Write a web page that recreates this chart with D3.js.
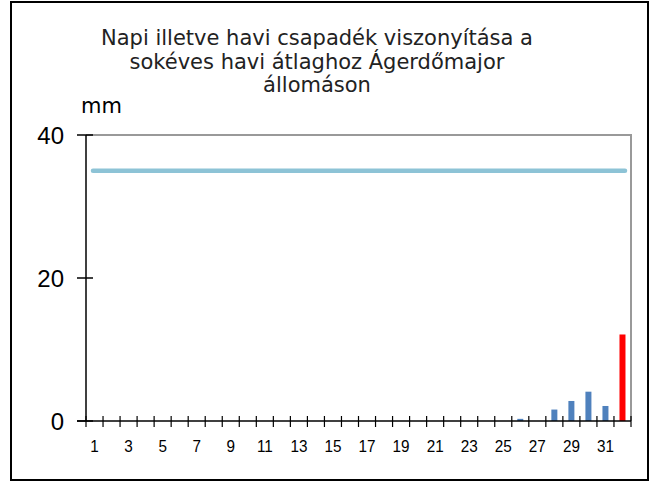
<!DOCTYPE html>
<html>
<head>
<meta charset="utf-8">
<script src="https://cdn.jsdelivr.net/npm/d3@7"></script>
<style>
  body { margin: 0; background: #fff; }
  svg { display: block; }
</style>
</head>
<body>
<div id="chart"></div>
<script>
// day slots 1..31 plus the monthly total in slot 32
var days = d3.range(1, 33);
var daily = [0,0,0,0,0,0,0,0,0,0,0,0,0,0,0,0,0,0,0,0,0,0,0,0,0,0.3,0,1.6,2.8,4.1,2.1];
var monthTotal = 12.1;
var longTermAvg = 35;
var yTicks = [0, 20, 40];
var titleLines = ['Napi illetve havi csapadék viszonyítása a', 'sokéves havi átlaghoz Ágerdőmajor', 'állomáson'];

var values = daily.concat([monthTotal]);

var W = 651, H = 484;
var svg = d3.select('#chart').append('svg')
  .attr('width', W)
  .attr('height', H);

// outer frame
svg.append('rect')
  .attr('x', 11).attr('y', 2)
  .attr('width', 637).attr('height', 478)
  .attr('fill', '#fff')
  .attr('stroke', '#000')
  .attr('stroke-width', 2);

var pLeft = 86, pRight = 631, pTop = 135, pBottom = 421;

var x = d3.scaleBand().domain(days).range([pLeft, pRight]);
var y = d3.scaleLinear().domain([0, 40]).range([pBottom, pTop]);

// plot border (top + right, grey)
svg.append('path')
  .attr('d', 'M' + pLeft + ',' + pTop + 'H' + pRight + 'V' + pBottom)
  .attr('fill', 'none')
  .attr('stroke', '#999')
  .attr('stroke-width', 2);

// long term average line
svg.append('line')
  .attr('x1', x(1) + 7).attr('x2', x(32) + x.bandwidth() - 6)
  .attr('y1', y(longTermAvg)).attr('y2', y(longTermAvg))
  .attr('stroke', '#8dc3d6')
  .attr('stroke-width', 4.5)
  .attr('stroke-linecap', 'round');

// bars
var barW = 6;
svg.selectAll('.bar')
  .data(values)
 .enter().append('rect')
  .attr('class', 'bar')
  .attr('x', function(d, i) { return x(days[i]) + (x.bandwidth() - barW) / 2; })
  .attr('width', barW)
  .attr('y', function(d) { return y(d); })
  .attr('height', function(d) { return y(0) - y(d); })
  .attr('fill', function(d, i) { return i == 31 ? '#ff0000' : '#4f81bd'; });

// y axis
svg.append('line')
  .attr('x1', pLeft).attr('x2', pLeft)
  .attr('y1', pTop).attr('y2', pBottom)
  .attr('stroke', '#000').attr('stroke-width', 1.5);
svg.selectAll('.ytick')
  .data(yTicks)
 .enter().append('line')
  .attr('x1', pLeft - 9).attr('x2', pLeft + 7)
  .attr('y1', function(d) { return y(d); })
  .attr('y2', function(d) { return y(d); })
  .attr('stroke', '#000').attr('stroke-width', 1.5);
svg.selectAll('.ylab')
  .data(yTicks)
 .enter().append('text')
  .attr('x', 64)
  .attr('y', function(d) { return y(d) + 9; })
  .attr('text-anchor', 'end')
  .style('font-family', 'Liberation Sans, Arial, sans-serif')
  .style('font-size', '24px')
  .text(function(d) { return d; });

// x axis
svg.append('line')
  .attr('x1', pLeft - 9).attr('x2', pRight)
  .attr('y1', pBottom).attr('y2', pBottom)
  .attr('stroke', '#000').attr('stroke-width', 1.5);
var tickPos = d3.range(0, 33).map(function(i) { return pLeft + x.step() * i; });
svg.selectAll('.xtick')
  .data(tickPos)
 .enter().append('line')
  .attr('x1', function(d) { return d; })
  .attr('x2', function(d) { return d; })
  .attr('y1', pBottom - 5).attr('y2', pBottom + 6)
  .attr('stroke', '#000').attr('stroke-width', 1.2);
svg.selectAll('.xlab')
  .data(days.filter(function(d) { return d % 2 == 1 && d < 32; }))
 .enter().append('text')
  .attr('transform', function(d) { return 'translate(' + (x(d) + x.bandwidth() / 2) + ',452) scale(0.9,1)'; })
  .attr('text-anchor', 'middle')
  .style('font-family', 'Liberation Sans, Arial, sans-serif')
  .style('font-size', '17px')
  .text(function(d) { return d; });

// unit
svg.append('text')
  .attr('x', 81).attr('y', 113)
  .style('font-family', 'DejaVu Sans, Verdana, sans-serif')
  .style('font-size', '21px')
  .text('mm');

// title
svg.selectAll('.title')
  .data(titleLines)
 .enter().append('text')
  .attr('x', 317)
  .attr('y', function(d, i) { return 45 + i * 23.5; })
  .attr('text-anchor', 'middle')
  .style('font-family', 'DejaVu Sans, Verdana, sans-serif')
  .style('font-size', '21px')
  .style('fill', '#222')
  .text(function(d) { return d; });
</script>
</body>
</html>
